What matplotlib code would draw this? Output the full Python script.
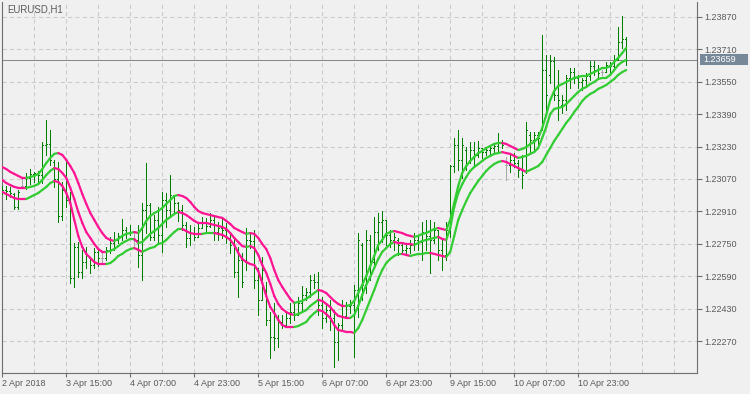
import numpy as np
import matplotlib
matplotlib.use('Agg')
import matplotlib.pyplot as plt
from matplotlib.collections import LineCollection
from matplotlib.patches import Rectangle
import matplotlib.transforms as mtrans

# ---- EURUSD H1 bars (one per hour, weekend gap removed) ----
high = [1.23036,1.23036,1.23031,1.23001,1.23016,1.23080,1.23100,1.23119,1.23105,1.23110,1.23253,1.23361,1.23312,1.23164,1.23154,1.23055,1.23154,1.23006,1.22754,1.22759,
1.22720,1.22734,1.22685,1.22729,1.22720,1.22705,1.22734,1.22784,1.22808,1.22803,1.22873,1.22833,1.22843,1.22808,1.22843,1.22952,1.23149,1.22952,1.22892,1.22932,
1.23006,1.23001,1.23090,1.22991,1.22957,1.22942,1.22858,1.22843,1.22833,1.22853,1.22882,1.22878,1.22902,1.22892,1.22858,1.22878,1.22853,1.22808,1.22779,1.22734,
1.22705,1.22828,1.22808,1.22818,1.22631,1.22685,1.22561,1.22413,1.22458,1.22399,1.22399,1.22413,1.22458,1.22458,1.22487,1.22542,1.22532,1.22596,1.22601,1.22611,
1.22487,1.22458,1.22473,1.22423,1.22359,1.22473,1.22463,1.22473,1.22547,1.22803,1.22754,1.22818,1.22794,1.22882,1.22902,1.22912,1.22868,1.22818,1.22803,1.22779,
1.22759,1.22754,1.22769,1.22803,1.22784,1.22858,1.22868,1.22868,1.22858,1.22818,1.22769,1.22858,1.23139,1.23273,1.23312,1.23273,1.23228,1.23253,1.23253,1.23258,
1.23223,1.23228,1.23238,1.23248,1.23297,1.23263,1.23179,1.23189,1.23198,1.23164,1.23189,1.23352,1.23302,1.23302,1.23302,1.23781,1.23682,1.23682,1.23673,1.23608,
1.23485,1.23584,1.23618,1.23618,1.23584,1.23569,1.23594,1.23653,1.23653,1.23633,1.23608,1.23648,1.23648,1.23682,1.23821,1.23875,1.23771]
low = [1.22996,1.22971,1.22981,1.22922,1.22922,1.23031,1.23021,1.23045,1.23055,1.23050,1.23050,1.23189,1.23139,1.23031,1.22858,1.22868,1.22932,1.22557,1.22537,1.22586,
1.22581,1.22631,1.22606,1.22631,1.22640,1.22655,1.22670,1.22705,1.22720,1.22754,1.22769,1.22779,1.22794,1.22729,1.22636,1.22571,1.22803,1.22769,1.22769,1.22754,
1.22710,1.22833,1.22882,1.22902,1.22863,1.22818,1.22734,1.22744,1.22769,1.22784,1.22828,1.22808,1.22833,1.22769,1.22769,1.22779,1.22754,1.22705,1.22586,1.22487,
1.22537,1.22621,1.22729,1.22532,1.22399,1.22473,1.22349,1.22186,1.22226,1.22241,1.22334,1.22349,1.22359,1.22374,1.22399,1.22423,1.22473,1.22487,1.22532,1.22399,
1.22334,1.22364,1.22324,1.22142,1.22176,1.22324,1.22384,1.22408,1.22191,1.22389,1.22473,1.22507,1.22571,1.22636,1.22720,1.22759,1.22744,1.22734,1.22720,1.22695,
1.22710,1.22695,1.22705,1.22720,1.22720,1.22670,1.22720,1.22606,1.22754,1.22670,1.22621,1.22670,1.22784,1.23105,1.23115,1.23075,1.23115,1.23149,1.23139,1.23179,
1.23174,1.23189,1.23189,1.23198,1.23203,1.23223,1.23065,1.23105,1.23129,1.23080,1.23026,1.23100,1.23203,1.23213,1.23223,1.23312,1.23396,1.23544,1.23460,1.23361,
1.23396,1.23411,1.23519,1.23544,1.23519,1.23510,1.23534,1.23559,1.23584,1.23569,1.23584,1.23598,1.23598,1.23623,1.23658,1.23717,1.23633]
open_ = [1.23006,1.23016,1.23011,1.22996,1.22932,1.23036,1.23036,1.23075,1.23095,1.23100,1.23090,1.23238,1.23243,1.23154,1.23070,1.22887,1.23016,1.22966,1.22581,1.22734,
1.22611,1.22660,1.22680,1.22645,1.22710,1.22680,1.22680,1.22720,1.22754,1.22769,1.22789,1.22818,1.22803,1.22769,1.22769,1.22695,1.22917,1.22942,1.22784,1.22868,
1.22794,1.22966,1.22917,1.22991,1.22952,1.22917,1.22843,1.22779,1.22803,1.22784,1.22828,1.22858,1.22838,1.22868,1.22808,1.22828,1.22818,1.22779,1.22744,1.22611,
1.22670,1.22660,1.22769,1.22764,1.22571,1.22473,1.22522,1.22374,1.22290,1.22285,1.22364,1.22349,1.22384,1.22413,1.22399,1.22458,1.22497,1.22512,1.22571,1.22561,
1.22448,1.22384,1.22423,1.22384,1.22265,1.22349,1.22394,1.22443,1.22448,1.22522,1.22744,1.22547,1.22769,1.22660,1.22808,1.22858,1.22868,1.22794,1.22769,1.22769,
1.22744,1.22720,1.22729,1.22744,1.22769,1.22759,1.22808,1.22789,1.22769,1.22818,1.22720,1.22695,1.22818,1.23134,1.23238,1.23164,1.23213,1.23164,1.23213,1.23189,
1.23223,1.23203,1.23213,1.23223,1.23233,1.23253,1.23139,1.23139,1.23164,1.23149,1.23115,1.23105,1.23287,1.23263,1.23287,1.23322,1.23608,1.23584,1.23653,1.23485,
1.23436,1.23460,1.23569,1.23598,1.23569,1.23549,1.23559,1.23579,1.23628,1.23608,1.23598,1.23598,1.23633,1.23628,1.23658,1.23746,1.23761]
close = [1.23016,1.23011,1.23001,1.22932,1.23006,1.23036,1.23075,1.23095,1.23100,1.23090,1.23238,1.23243,1.23164,1.23070,1.22887,1.23016,1.22966,1.22581,1.22734,1.22611,
1.22660,1.22695,1.22645,1.22710,1.22680,1.22680,1.22720,1.22754,1.22769,1.22789,1.22818,1.22803,1.22808,1.22769,1.22695,1.22917,1.22942,1.22784,1.22868,1.22794,
1.22966,1.22917,1.22991,1.22952,1.22917,1.22843,1.22779,1.22803,1.22784,1.22828,1.22858,1.22838,1.22868,1.22808,1.22828,1.22818,1.22779,1.22744,1.22611,1.22670,
1.22561,1.22769,1.22764,1.22571,1.22473,1.22621,1.22374,1.22290,1.22285,1.22364,1.22349,1.22384,1.22413,1.22399,1.22458,1.22497,1.22512,1.22571,1.22561,1.22448,
1.22384,1.22423,1.22384,1.22265,1.22349,1.22394,1.22443,1.22448,1.22522,1.22769,1.22547,1.22769,1.22660,1.22808,1.22858,1.22868,1.22794,1.22769,1.22784,1.22744,
1.22720,1.22729,1.22744,1.22769,1.22759,1.22808,1.22789,1.22769,1.22818,1.22720,1.22695,1.22818,1.23134,1.23238,1.23164,1.23238,1.23139,1.23213,1.23189,1.23223,
1.23203,1.23213,1.23223,1.23233,1.23253,1.23238,1.23139,1.23164,1.23149,1.23115,1.23090,1.23312,1.23263,1.23287,1.23273,1.23608,1.23485,1.23653,1.23485,1.23460,
1.23460,1.23569,1.23598,1.23569,1.23549,1.23559,1.23579,1.23628,1.23608,1.23594,1.23598,1.23633,1.23628,1.23658,1.23746,1.23761,1.23659]

# ---- indicator: upper / middle / lower smoothed bands ----
upper = [1.23129,1.23119,1.23105,1.23095,1.23085,1.23075,1.23075,1.23080,1.23085,1.23095,1.23119,1.23149,1.23174,1.23194,1.23198,1.23189,1.23164,1.23134,1.23100,1.23050,
1.22996,1.22947,1.22902,1.22868,1.22833,1.22803,1.22779,1.22769,1.22764,1.22774,1.22789,1.22799,1.22803,1.22808,1.22803,1.22828,1.22863,1.22887,1.22902,1.22912,
1.22927,1.22947,1.22966,1.22986,1.22991,1.22986,1.22976,1.22957,1.22932,1.22912,1.22902,1.22897,1.22892,1.22887,1.22882,1.22878,1.22863,1.22848,1.22828,1.22818,
1.22808,1.22799,1.22803,1.22799,1.22779,1.22749,1.22724,1.22680,1.22621,1.22571,1.22537,1.22507,1.22478,1.22458,1.22463,1.22468,1.22478,1.22492,1.22507,1.22522,
1.22517,1.22507,1.22487,1.22468,1.22453,1.22443,1.22443,1.22448,1.22468,1.22507,1.22547,1.22591,1.22640,1.22690,1.22744,1.22769,1.22799,1.22808,1.22813,1.22808,
1.22803,1.22794,1.22789,1.22784,1.22789,1.22799,1.22803,1.22813,1.22823,1.22828,1.22823,1.22818,1.22868,1.22952,1.23036,1.23100,1.23134,1.23159,1.23179,1.23198,
1.23208,1.23223,1.23233,1.23243,1.23248,1.23248,1.23243,1.23233,1.23223,1.23213,1.23218,1.23228,1.23243,1.23253,1.23273,1.23322,1.23386,1.23460,1.23505,1.23529,
1.23539,1.23549,1.23559,1.23569,1.23574,1.23579,1.23579,1.23589,1.23598,1.23608,1.23618,1.23618,1.23628,1.23648,1.23668,1.23692,1.23717]
middle = [1.23065,1.23050,1.23040,1.23031,1.23026,1.23026,1.23026,1.23031,1.23036,1.23045,1.23065,1.23090,1.23110,1.23124,1.23119,1.23100,1.23075,1.23026,1.22971,1.22907,
1.22853,1.22808,1.22779,1.22749,1.22724,1.22710,1.22710,1.22715,1.22724,1.22739,1.22754,1.22764,1.22774,1.22774,1.22754,1.22759,1.22779,1.22799,1.22813,1.22828,
1.22848,1.22868,1.22882,1.22897,1.22907,1.22902,1.22892,1.22878,1.22863,1.22853,1.22853,1.22853,1.22848,1.22843,1.22838,1.22833,1.22823,1.22803,1.22779,1.22759,
1.22739,1.22734,1.22739,1.22729,1.22695,1.22645,1.22606,1.22552,1.22492,1.22453,1.22428,1.22413,1.22403,1.22399,1.22403,1.22413,1.22423,1.22443,1.22458,1.22473,
1.22468,1.22453,1.22438,1.22413,1.22394,1.22389,1.22384,1.22384,1.22399,1.22443,1.22497,1.22547,1.22586,1.22631,1.22675,1.22710,1.22729,1.22749,1.22759,1.22754,
1.22754,1.22749,1.22749,1.22744,1.22754,1.22764,1.22769,1.22774,1.22779,1.22784,1.22774,1.22769,1.22828,1.22932,1.23001,1.23045,1.23080,1.23110,1.23129,1.23144,
1.23159,1.23174,1.23184,1.23194,1.23198,1.23203,1.23198,1.23194,1.23184,1.23174,1.23179,1.23184,1.23194,1.23203,1.23223,1.23273,1.23327,1.23391,1.23416,1.23421,
1.23426,1.23440,1.23460,1.23480,1.23500,1.23515,1.23524,1.23539,1.23549,1.23564,1.23569,1.23569,1.23584,1.23608,1.23633,1.23648,1.23658]
lower = [1.23006,1.22996,1.22986,1.22976,1.22971,1.22971,1.22971,1.22981,1.22991,1.23001,1.23016,1.23031,1.23050,1.23060,1.23055,1.23036,1.23001,1.22952,1.22868,1.22789,
1.22734,1.22700,1.22680,1.22660,1.22650,1.22650,1.22650,1.22655,1.22670,1.22690,1.22700,1.22715,1.22724,1.22729,1.22720,1.22710,1.22720,1.22729,1.22734,1.22749,
1.22754,1.22769,1.22789,1.22808,1.22823,1.22823,1.22813,1.22803,1.22799,1.22799,1.22799,1.22803,1.22803,1.22803,1.22799,1.22794,1.22784,1.22769,1.22744,1.22705,
1.22675,1.22660,1.22650,1.22645,1.22616,1.22557,1.22492,1.22438,1.22408,1.22374,1.22349,1.22339,1.22339,1.22339,1.22344,1.22354,1.22364,1.22389,1.22408,1.22423,
1.22418,1.22403,1.22384,1.22349,1.22324,1.22320,1.22315,1.22315,1.22310,1.22334,1.22374,1.22423,1.22473,1.22522,1.22576,1.22621,1.22655,1.22675,1.22690,1.22700,
1.22700,1.22695,1.22690,1.22695,1.22700,1.22700,1.22705,1.22705,1.22700,1.22695,1.22690,1.22685,1.22710,1.22789,1.22868,1.22917,1.22961,1.23001,1.23031,1.23060,
1.23085,1.23110,1.23129,1.23144,1.23154,1.23159,1.23154,1.23144,1.23134,1.23124,1.23115,1.23105,1.23115,1.23124,1.23134,1.23154,1.23189,1.23223,1.23258,1.23287,
1.23317,1.23347,1.23371,1.23401,1.23426,1.23455,1.23475,1.23490,1.23500,1.23515,1.23524,1.23534,1.23549,1.23564,1.23584,1.23598,1.23608]

x_labels = ['2 Apr 2018', '3 Apr 15:00', '4 Apr 07:00', '4 Apr 23:00', '5 Apr 15:00',
            '6 Apr 07:00', '6 Apr 23:00', '9 Apr 15:00', '10 Apr 07:00', '10 Apr 23:00']
y_ticks = [1.22270, 1.22430, 1.22590, 1.22750, 1.22910, 1.23070, 1.23230,
           1.23390, 1.23550, 1.23710, 1.23870]
symbol = 'EURUSD,H1'
bid = 1.23659

# ---- styling ----
BG = '#F0F0F0'
FRAME = '#6E6E6E'
TXT = '#5A5A5A'
GRID = '#CACACA'
BAR = '#008000'
DOJI = '#A8A8A8'
UPC = '#32CD32'
DNC = '#FF1493'
FONT = 'Liberation Sans'
FS = 6.5

W, Hh = 750, 394
fig = plt.figure(figsize=(7.5, 3.94), dpi=100, facecolor=BG)
ax = fig.add_axes([2/W, (Hh-373)/Hh, 695/W, 371/Hh])
ax.set_facecolor(BG)
ax.set_xlim(-0.075, 173.7)
ax.set_ylim(1.22112, 1.23944)

h = np.array(high); l = np.array(low); o = np.array(open_); c = np.array(close)
n = len(h)
idx = np.arange(n)

# grid
for gx in np.arange(8, 174, 8):
    ax.axvline(gx, color=GRID, lw=0.75, ls=(0, (4, 3)), zorder=1)
for gy in y_ticks:
    ax.axhline(gy, color=GRID, lw=0.75, ls=(0, (4, 3)), zorder=1)

# bid line
ax.axhline(bid, color='#8A8A8A', lw=0.75, zorder=2)

# bars (thin OHLC bars)
doji = np.isclose(o, c)
cols = [DOJI if d else BAR for d in doji]
ax.vlines(idx, l, h, colors=cols, lw=0.72, zorder=3, antialiased=False)
ax.hlines(o, idx - 0.3, idx, colors=cols, lw=0.72, zorder=3, antialiased=False)
ax.hlines(c, idx, idx + 0.3, colors=cols, lw=0.72, zorder=3, antialiased=False)

# indicator lines coloured by slope
for s in (upper, middle, lower):
    s = np.array(s)
    segs = [[(i, s[i]), (i + 1, s[i + 1])] for i in range(n - 1)]
    colors = []
    prev = DNC
    for i in range(n - 1):
        if s[i + 1] < s[i]:
            prev = DNC
        elif s[i + 1] > s[i]:
            prev = UPC
        colors.append(prev)
    ax.add_collection(LineCollection(segs, colors=colors, lw=1.6, zorder=4,
                                     capstyle='round'))

# spines
for side in ('left', 'bottom', 'right'):
    ax.spines[side].set_color(FRAME)
    ax.spines[side].set_linewidth(0.8)
ax.spines['top'].set_visible(False)

# y axis on right
ax.yaxis.tick_right()
ax.set_yticks(y_ticks)
ax.set_yticklabels(['%.5f' % v for v in y_ticks], fontsize=FS, color=TXT, family=FONT)
ax.tick_params(axis='y', direction='out', length=3.5, width=0.8, color=FRAME, pad=1.5)

# x axis ticks & labels
xt = np.arange(0, 16 * len(x_labels), 16)
ax.set_xticks(xt)
ax.set_xticklabels([])
ax.tick_params(axis='x', direction='out', length=3, width=0.8, color=FRAME)
tr = mtrans.blended_transform_factory(ax.transData, ax.transAxes)
for xv, lab in zip(xt, x_labels):
    ax.text(xv - 0.1, -10/371, lab, transform=tr, ha='left', va='center',
            fontsize=FS, color=TXT, family=FONT)

# bid label box at the right of the price scale
ybid = ax.transData.transform((0, bid))[1]
fig.add_artist(Rectangle((700/W, (ybid - 5.5)/Hh), 48/W, 11/Hh,
                         transform=fig.transFigure, fc='#778899', ec='none', zorder=5))
fig.text(703/W, ybid/Hh, '%.5f' % bid, ha='left', va='center', fontsize=FS,
         color='white', family=FONT, zorder=6)

# title
fig.text(7/W, 1 - 10/Hh, symbol, ha='left', va='center', fontsize=FS + 0.4,
         color=TXT, family=FONT)

plt.savefig('out.png', dpi=100, facecolor=BG)
